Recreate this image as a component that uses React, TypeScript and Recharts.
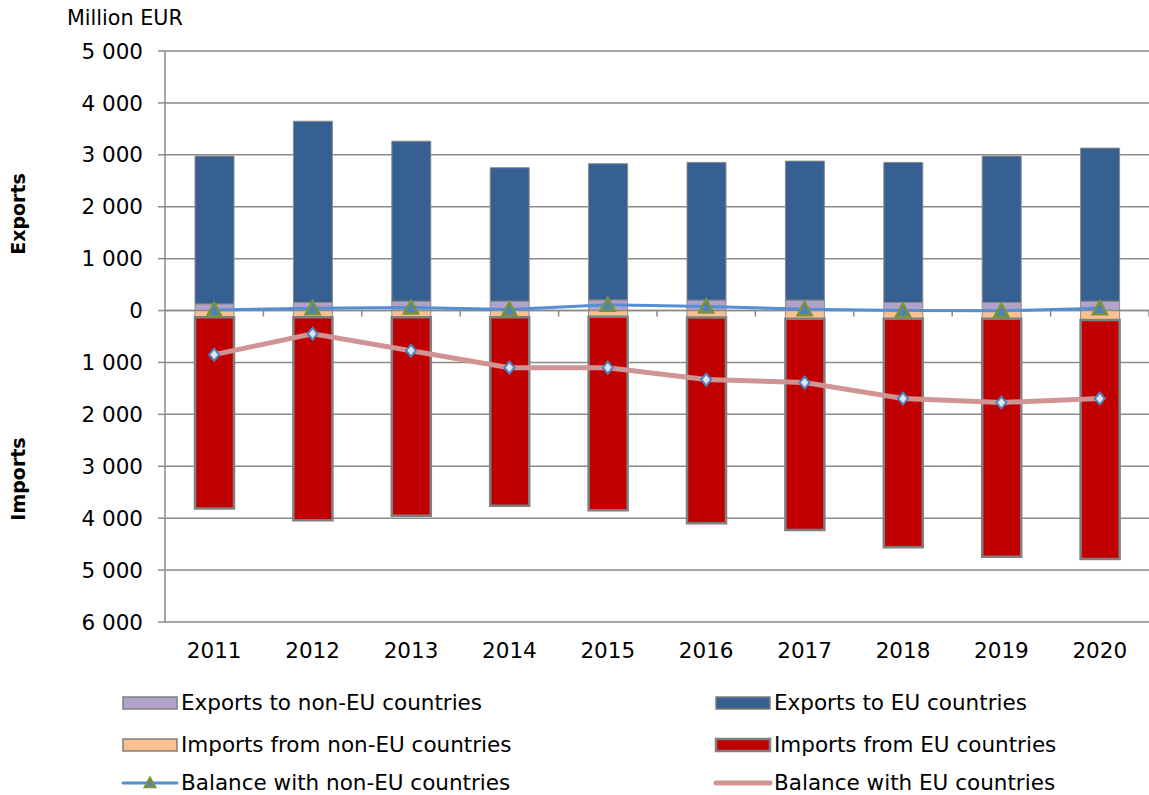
import React from 'react';
import { ComposedChart, Bar, Line, XAxis, YAxis, CartesianGrid, ReferenceLine } from 'recharts';

const years = ['2011', '2012', '2013', '2014', '2015', '2016', '2017', '2018', '2019', '2020'];
const exportsNonEU = [128, 154, 179, 180, 205, 200, 200, 154, 154, 179];
const exportsEU = [2847, 3493, 3084, 2572, 2624, 2654, 2679, 2700, 2821, 2950];
const importsNonEU = [130, 130, 130, 130, 120, 135, 160, 160, 160, 180];
const importsEU = [3682, 3912, 3824, 3632, 3725, 3965, 4068, 4401, 4581, 4605];
const balanceNonEU = [10, 45, 58, 20, 110, 77, 27, 0, -5, 45];
const balanceEU = [-850, -447, -774, -1100, -1100, -1330, -1388, -1695, -1772, -1695];
const yTicks = [5000, 4000, 3000, 2000, 1000, 0, -1000, -2000, -3000, -4000, -5000, -6000];

const data = years.map((year, i) => ({
  year,
  exportsNonEU: exportsNonEU[i],
  exportsEU: exportsEU[i],
  importsNonEU: -importsNonEU[i],
  importsEU: -importsEU[i],
  balanceNonEU: balanceNonEU[i],
  balanceEU: balanceEU[i],
}));

const FONT = '"DejaVu Sans", Verdana, sans-serif';
const GRID = '#8a8a8a';
const FS = 21.5;

const formatTick = (v: number) =>
  Math.abs(v)
    .toString()
    .replace(/\B(?=(\d{3})+(?!\d))/g, ' ');

const Triangle = (props: any) => {
  const { cx, cy } = props;
  if (cx == null || cy == null) return null;
  return (
    <polygon
      points={`${cx},${cy - 7} ${cx + 7},${cy + 6} ${cx - 7},${cy + 6}`}
      fill="#4F81BD"
      stroke="#77933C"
      strokeWidth={2.5}
      strokeLinejoin="miter"
    />
  );
};

const Diamond = (props: any) => {
  const { cx, cy } = props;
  if (cx == null || cy == null) return null;
  return (
    <polygon
      points={`${cx},${cy - 6} ${cx + 5},${cy} ${cx},${cy + 6} ${cx - 5},${cy}`}
      fill="#DCE6F2"
      stroke="#4F81BD"
      strokeWidth={2}
    />
  );
};

// zero line with the category tick marks hanging below it
const ZeroAxis = (props: any) => {
  const { x1, y1, x2 } = props;
  const n = years.length;
  const step = (x2 - x1) / n;
  const marks = [];
  for (let i = 1; i <= n; i++) {
    const x = x1 + i * step;
    marks.push(<line key={i} x1={x} y1={y1} x2={x} y2={y1 + 6} stroke={GRID} strokeWidth={1.5} />);
  }
  return (
    <g>
      <line x1={x1} y1={y1} x2={x2} y2={y1} stroke={GRID} strokeWidth={1.5} />
      {marks}
    </g>
  );
};

const legendRows = [
  [
    { label: 'Exports to non-EU countries', type: 'rect', color: '#B3A2C7' },
    { label: 'Exports to EU countries', type: 'rect', color: '#366092' },
  ],
  [
    { label: 'Imports from non-EU countries', type: 'rect', color: '#FAC090' },
    { label: 'Imports from EU countries', type: 'rect', color: '#C00000' },
  ],
  [
    { label: 'Balance with non-EU countries', type: 'tri', color: '#558ED5' },
    { label: 'Balance with EU countries', type: 'line', color: '#D09494' },
  ],
];
const legendY = [703, 745, 783];
const legendX = [123, 716];

const Overlay = () => (
  <svg
    width={1149}
    height={795}
    style={{ position: 'absolute', left: 0, top: 0, pointerEvents: 'none' }}
    fontFamily={FONT}
  >
    <text x={67} y={25} fontSize={20.7} fill="#000">Million EUR</text>
    <text
      x={0}
      y={0}
      fontSize={19}
      fontWeight="bold"
      fill="#000"
      textAnchor="middle"
      transform="translate(25,214) rotate(-90)"
    >
      Exports
    </text>
    <text
      x={0}
      y={0}
      fontSize={19}
      fontWeight="bold"
      fill="#000"
      textAnchor="middle"
      transform="translate(25,479) rotate(-90)"
    >
      Imports
    </text>
    {legendRows.map((row, r) =>
      row.map((item, c) => {
        const x = legendX[c];
        const y = legendY[r];
        let icon;
        if (item.type === 'rect') {
          icon = (
            <rect
              x={x}
              y={y - 6}
              width={54}
              height={12}
              fill={item.color}
              stroke="#7f7f7f"
              strokeWidth={item.color === '#C00000' ? 2.5 : 1.5}
            />
          );
        } else if (item.type === 'tri') {
          icon = (
            <g>
              <line x1={x} y1={y} x2={x + 54} y2={y} stroke={item.color} strokeWidth={3} strokeLinecap="round" />
              <polygon
                points={`${x + 27},${y - 5} ${x + 32},${y + 4} ${x + 22},${y + 4}`}
                fill="#4F81BD"
                stroke="#77933C"
                strokeWidth={2.5}
              />
            </g>
          );
        } else {
          icon = (
            <line x1={x} y1={y} x2={x + 54} y2={y} stroke={item.color} strokeWidth={5} strokeLinecap="round" />
          );
        }
        return (
          <g key={item.label}>
            {icon}
            <text x={x + 58} y={y + 7} fontSize={FS} fill="#000">
              {item.label}
            </text>
          </g>
        );
      })
    )}
  </svg>
);

export default function App() {
  return (
    <div style={{ position: 'absolute', left: 0, top: 0, width: 1149, height: 795, background: '#fff', fontFamily: FONT }}>
      <ComposedChart
        width={1149}
        height={795}
        data={data}
        stackOffset="sign"
        margin={{ top: 51, right: 0, bottom: 113, left: 0 }}
      >
        <CartesianGrid vertical={false} stroke={GRID} strokeWidth={1.5} />
        <XAxis
          dataKey="year"
          axisLine={false}
          tickLine={false}
          tickSize={0}
          tickMargin={21}
          height={60}
          interval={0}
          tick={{ fontSize: FS, fill: '#000', fontFamily: FONT }}
        />
        <YAxis
          domain={[-6000, 5000]}
          ticks={yTicks}
          interval={0}
          width={165}
          tickFormatter={formatTick}
          axisLine={{ stroke: GRID, strokeWidth: 1.5 }}
          tickLine={{ stroke: GRID, strokeWidth: 1.5 }}
          tickSize={7}
          tickMargin={15}
          tick={{ fontSize: FS, fill: '#000', fontFamily: FONT }}
        />
        <Bar dataKey="exportsNonEU" stackId="s" barSize={39} fill="#B3A2C7" stroke="#8c8c8c" strokeWidth={1} isAnimationActive={false} />
        <Bar dataKey="exportsEU" stackId="s" barSize={39} fill="#366092" stroke="#8c8c8c" strokeWidth={1} isAnimationActive={false} />
        <Bar dataKey="importsNonEU" stackId="s" barSize={39} fill="#FAC090" stroke="#8c8c8c" strokeWidth={1} isAnimationActive={false} />
        <Bar dataKey="importsEU" stackId="s" barSize={39} fill="#C00000" stroke="#7f7f7f" strokeWidth={2.5} isAnimationActive={false} />
        <ReferenceLine y={0} shape={ZeroAxis} />
        <Line
          dataKey="balanceNonEU"
          type="linear"
          stroke="#558ED5"
          strokeWidth={3}
          dot={<Triangle />}
          activeDot={false}
          isAnimationActive={false}
        />
        <Line
          dataKey="balanceEU"
          type="linear"
          stroke="#D09494"
          strokeWidth={5}
          dot={<Diamond />}
          activeDot={false}
          isAnimationActive={false}
        />
      </ComposedChart>
      <Overlay />
    </div>
  );
}
